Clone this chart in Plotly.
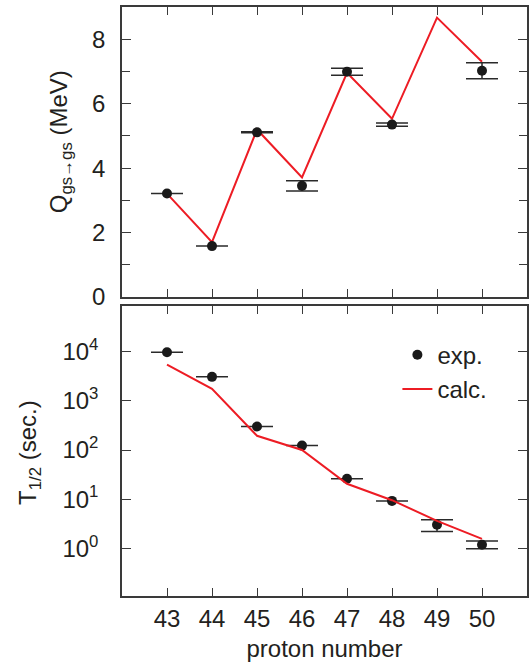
import plotly.graph_objects as go
from plotly.subplots import make_subplots

# ---- data ----
protons = [43, 44, 45, 46, 47, 48, 49, 50]
q_exp_z = [43, 44, 45, 46, 47, 48, 50]
q_exp = [3.21, 1.58, 5.11, 3.45, 6.99, 5.35, 7.02]
q_exp_err = [0.0, 0.0, 0.015, 0.16, 0.11, 0.05, 0.25]
q_calc = [3.21, 1.70, 5.20, 3.71, 6.96, 5.53, 8.67, 7.30]

t_exp = [9800, 3090, 300, 123, 26, 9.2, 3.0, 1.17]
t_err_plus = [0, 0, 0, 0, 0, 0, 0.8, 0.23]
t_err_minus = [0, 0, 0, 0, 0, 0, 0.8, 0.2]
t_calc = [5500, 1770, 195, 100, 20.5, 9.5, 3.6, 1.55]

tick_vals = protons
tick_text = [str(p) for p in protons]
log_tick_vals = [1, 10, 100, 1000, 10000]
log_tick_text = ["10<sup>0</sup>", "10<sup>1</sup>", "10<sup>2</sup>", "10<sup>3</sup>", "10<sup>4</sup>"]

FONT = "Liberation Sans, Arial, Helvetica, sans-serif"
TXT = "#231f20"
AX = "#3a3a3a"
RED = "#ed1c24"

fig = make_subplots(rows=2, cols=1, shared_xaxes=True, vertical_spacing=0.0152)

# top panel
fig.add_trace(go.Scatter(x=protons, y=q_calc, mode="lines",
                         line=dict(color=RED, width=2), showlegend=False),
              row=1, col=1)
fig.add_trace(go.Scatter(x=q_exp_z, y=q_exp, mode="markers",
                         marker=dict(color="#1a1a1a", size=10),
                         error_y=dict(type="data", array=q_exp_err, visible=True,
                                      color="#2a2a2a", thickness=1.5, width=16),
                         showlegend=False),
              row=1, col=1)

# bottom panel
fig.add_trace(go.Scatter(x=protons, y=t_exp, mode="markers", name="exp.",
                         marker=dict(color="#1a1a1a", size=10),
                         error_y=dict(type="data", array=t_err_plus, arrayminus=t_err_minus,
                                      visible=True, color="#2a2a2a", thickness=1.5, width=16)),
              row=2, col=1)
fig.add_trace(go.Scatter(x=protons, y=t_calc, mode="lines", name="calc.",
                         line=dict(color=RED, width=2)),
              row=2, col=1)

common_x = dict(range=[42, 51], tickvals=tick_vals, ticktext=tick_text,
                ticks="inside", ticklen=8, tickwidth=1.3, tickcolor=AX,
                showline=True, linecolor=AX, linewidth=1.5, mirror="ticks",
                showgrid=False, zeroline=False, automargin=False,
                tickfont=dict(family=FONT, size=24, color=TXT))
fig.update_xaxes(**common_x, row=1, col=1)
fig.update_xaxes(**common_x, row=2, col=1, ticklabelstandoff=0,
                 title=dict(text="proton number", standoff=10,
                            font=dict(family=FONT, size=24, color=TXT)))
fig.update_xaxes(showticklabels=False, row=1, col=1)

fig.update_yaxes(range=[0, 9], tickvals=[0, 2, 4, 6, 8],
                 minor=dict(tickvals=[1, 3, 5, 7], ticks="inside", ticklen=8,
                            tickwidth=1.3, tickcolor=AX),
                 ticks="inside", ticklen=9, tickwidth=1.3, tickcolor=AX,
                 showline=True, linecolor=AX, linewidth=1.5, mirror="ticks",
                 showgrid=False, zeroline=False, ticklabelstandoff=10, automargin=False,
                 tickfont=dict(family=FONT, size=24, color=TXT), row=1, col=1)
fig.update_yaxes(type="log", range=[-0.974, 4.934], tickvals=log_tick_vals, ticktext=log_tick_text,
                 ticks="inside", ticklen=9, tickwidth=1.3, tickcolor=AX,
                 showline=True, linecolor=AX, linewidth=1.5, mirror="ticks",
                 showgrid=False, zeroline=False, ticklabelstandoff=17, automargin=False,
                 tickfont=dict(family=FONT, size=24, color=TXT), row=2, col=1)

fig.update_layout(
    width=530, height=665,
    margin=dict(l=122, r=3, t=7, b=69, autoexpand=False),
    paper_bgcolor="white", plot_bgcolor="white",
    font=dict(family=FONT, size=24, color=TXT),
    legend=dict(x=0.68, y=0.447, xanchor="left", yanchor="top",
                bgcolor="rgba(0,0,0,0)", font=dict(family=FONT, size=24, color=TXT),
                tracegroupgap=0, itemwidth=30),
    annotations=[
        dict(text="Q<sub>gs→gs</sub> (MeV)", textangle=-90, xref="paper", yref="paper",
             x=-0.15, y=0.771, xanchor="center", yanchor="middle", showarrow=False,
             font=dict(family=FONT, size=24, color=TXT)),
        dict(text="T<sub>1/2</sub> (sec.)", textangle=-90, xref="paper", yref="paper",
             x=-0.227, y=0.243, xanchor="center", yanchor="middle", showarrow=False,
             font=dict(family=FONT, size=24, color=TXT)),
    ],
)

fig.write_html("out.html", config={"displayModeBar": False},
               post_script="document.body.style.margin='0';document.body.style.overflow='hidden';")
